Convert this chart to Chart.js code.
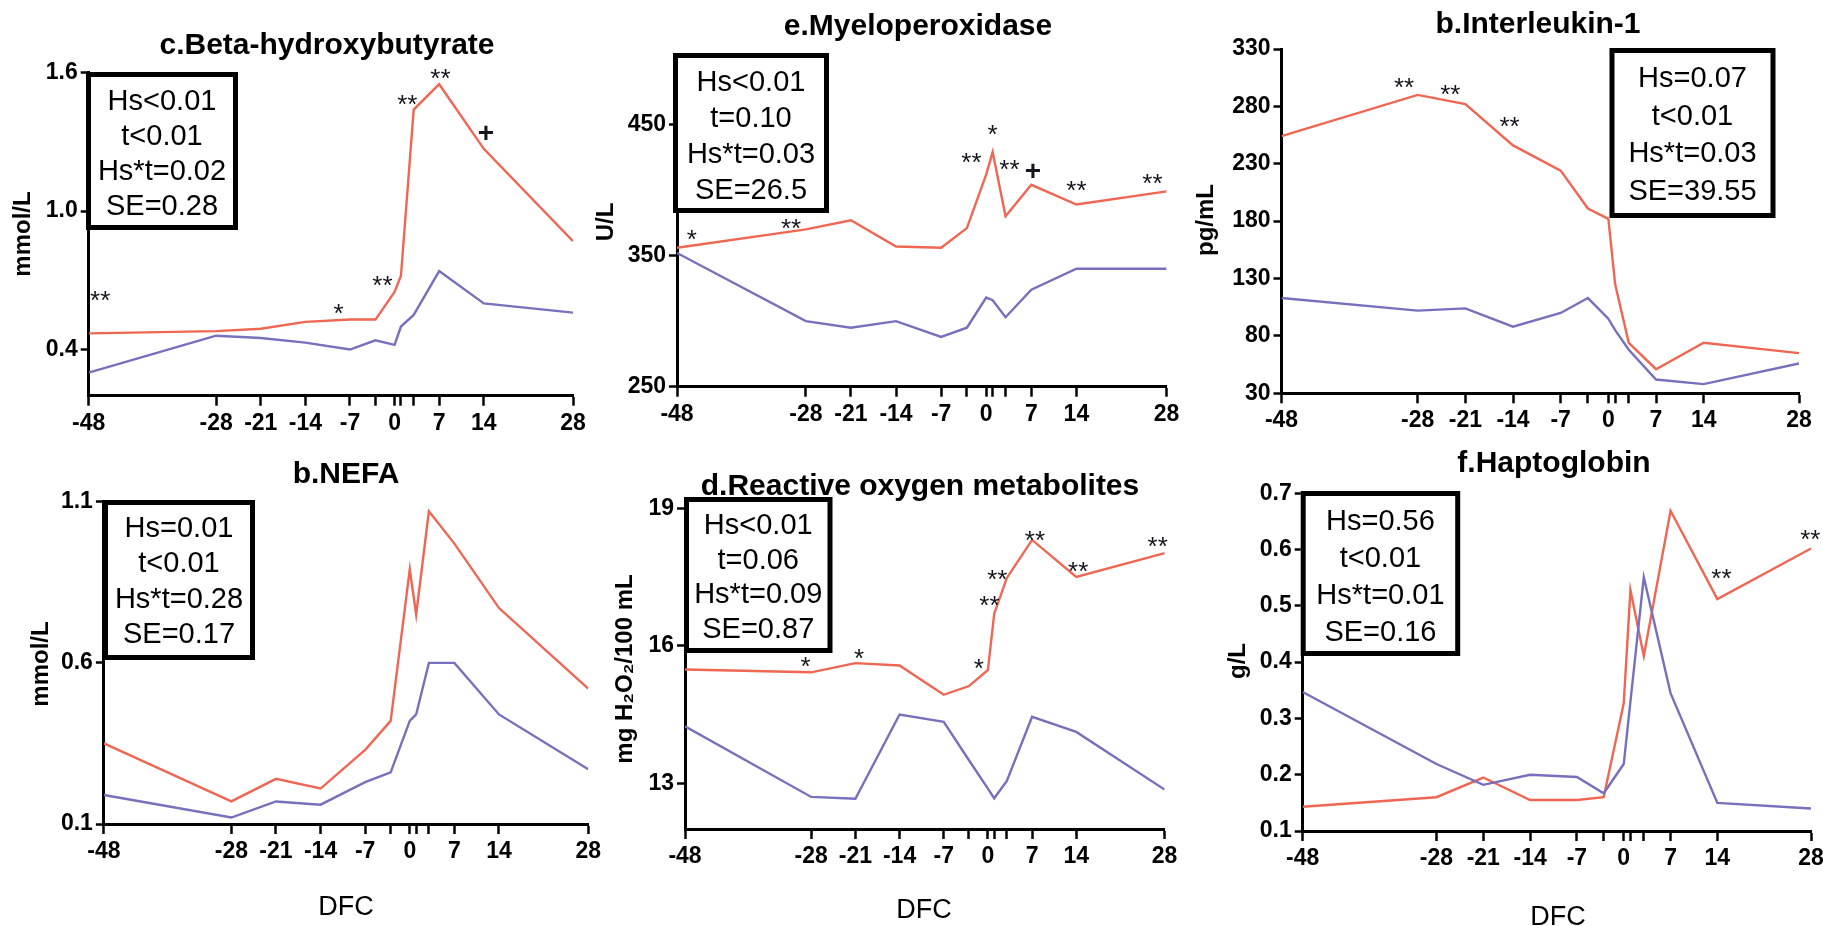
<!DOCTYPE html>
<html>
<head>
<meta charset="utf-8">
<script src="https://cdn.jsdelivr.net/npm/chart.js@4.4.1/dist/chart.umd.min.js"></script>
<style>
  html, body { margin: 0; padding: 0; background: #fff; overflow: hidden; }
  #page { position: relative; width: 1823px; height: 926px; overflow: hidden; background: #fff; }
  #page canvas { position: absolute; }
</style>
</head>
<body>
<div id="page"></div>
<script>
// sampling days relative to calving (DFC)
const days = [-48, -28, -21, -14, -7, -3, 0, 1, 3, 7, 14, 28];
const dayLabels = [-48, -28, -21, -14, -7, 0, 7, 14, 28];

// c. beta-hydroxybutyrate, mmol/L
const bhbRed = [0.47, 0.48, 0.49, 0.52, 0.53, 0.53, 0.65, 0.72, 1.44, 1.55, 1.27, 0.87];
const bhbBlue = [0.30, 0.46, 0.45, 0.43, 0.40, 0.44, 0.42, 0.50, 0.55, 0.74, 0.60, 0.56];
const bhbTicks = ['0.4', '1.0', '1.6'];
const bhbStats = ['Hs<0.01', 't<0.01', 'Hs*t=0.02', 'SE=0.28'];
const bhbMarks = [[-46.2, 0.64, '**'], [-8.8, 0.583, '*'], [-1.9, 0.705, '**'], [2.0, 1.489, '**'], [7.2, 1.604, '**'], [14.35, 1.345, '+']];

// e. myeloperoxidase, U/L
const mpoRed = [356, 370, 377, 357, 356, 371, 412, 429, 380, 404, 389, 399];
const mpoBlue = [352, 300, 295, 300, 288, 295, 318, 316, 303, 324, 340, 340];
const mpoTicks = ['250', '350', '450'];
const mpoStats = ['Hs<0.01', 't=0.10', 'Hs*t=0.03', 'SE=26.5'];
const mpoMarks = [[-45.7, 367, '*'], [-30.3, 376, '**'], [-2.3, 426, '**'], [1.0, 447, '*'], [3.6, 421, '**'], [7.25, 415, '+'], [14.0, 405, '**'], [25.8, 410, '**']];

// b. interleukin-1, pg/mL
const il1Red = [254, 290, 282, 246, 224, 191, 182, 125, 74, 51, 74, 65];
const il1Blue = [113, 102, 104, 88, 100, 113, 95, 85, 68, 42, 38, 56];
const il1Ticks = ['30', '80', '130', '180', '230', '280', '330'];
const il1Stats = ['Hs=0.07', 't<0.01', 'Hs*t=0.03', 'SE=39.55'];
const il1Marks = [[-30.0, 302, '**'], [-23.2, 296, '**'], [-14.5, 268, '**']];

// b. NEFA, mmol/L
const nefaRed = [0.35, 0.17, 0.24, 0.21, 0.33, 0.42, 0.89, 0.75, 1.07, 0.97, 0.77, 0.52];
const nefaBlue = [0.19, 0.12, 0.17, 0.16, 0.23, 0.26, 0.42, 0.44, 0.60, 0.60, 0.44, 0.27];
const nefaTicks = ['0.1', '0.6', '1.1'];
const nefaStats = ['Hs=0.01', 't<0.01', 'Hs*t=0.28', 'SE=0.17'];
const nefaMarks = [];

// d. reactive oxygen metabolites, mg H2O2/100 mL
const romRed = [15.48, 15.42, 15.62, 15.57, 14.93, 15.12, 15.47, 16.7, 17.48, 18.31, 17.50, 18.02];
const romBlue = [14.24, 12.70, 12.66, 14.50, 14.34, 13.5, 12.88, 12.67, 13.05, 14.45, 14.12, 12.86];
const romTicks = ['13', '16', '19'];
const romStats = ['Hs<0.01', 't=0.06', 'Hs*t=0.09', 'SE=0.87'];
const romMarks = [[-28.9, 15.68, '*'], [-20.4, 15.86, '*'], [-1.45, 15.64, '*'], [0.25, 17.03, '**'], [1.5, 17.59, '**'], [7.45, 18.44, '**'], [14.3, 17.76, '**'], [26.9, 18.30, '**']];

// f. haptoglobin, g/L
const hpRed = [0.143, 0.160, 0.195, 0.155, 0.155, 0.160, 0.327, 0.528, 0.411, 0.669, 0.512, 0.602];
const hpBlue = [0.347, 0.219, 0.182, 0.200, 0.196, 0.167, 0.219, 0.33, 0.551, 0.345, 0.150, 0.140];
const hpTicks = ['0.1', '0.2', '0.3', '0.4', '0.5', '0.6', '0.7'];
const hpStats = ['Hs=0.56', 't<0.01', 'Hs*t=0.01', 'SE=0.16'];
const hpMarks = [[14.6, 0.561, '**'], [27.9, 0.630, '**']];

const RED = '#ef6652';
const BLUE = '#7670bd';
const FONT = '"Liberation Sans", Arial, Helvetica, sans-serif';
const Y_W = 54;   // fixed y-axis band width
const X_H = 40;   // fixed x-axis band height

// tile = canvas rect on the page, area = plot rect [left, top, right, bottom] on the page
const panels = [
  { title: 'c.Beta-hydroxybutyrate', unit: 'mmol/L', red: bhbRed, blue: bhbBlue, ticks: bhbTicks, min: 0.2, max: 1.6,
    stats: bhbStats, marks: bhbMarks, tile: [0, 0, 590, 442], area: [88.7, 72.7, 573, 395.7],
    titleAt: [327, 54], unitAt: [23, 234], box: [86, 72, 152, 158, 109.5, 35], dfc: null },
  { title: 'e.Myeloperoxidase', unit: 'U/L', red: mpoRed, blue: mpoBlue, ticks: mpoTicks, min: 250, max: 500,
    stats: mpoStats, marks: mpoMarks, tile: [590, 0, 600, 442], area: [677, 59, 1166.6, 386.7],
    titleAt: [918, 35], unitAt: [606, 222], box: [673, 53, 156, 160, 90.5, 36], dfc: null },
  { title: 'b.Interleukin-1', unit: 'pg/mL', red: il1Red, blue: il1Blue, ticks: il1Ticks, min: 30, max: 330,
    stats: il1Stats, marks: il1Marks, tile: [1190, 0, 633, 442], area: [1281.5, 49, 1799, 393.3],
    titleAt: [1538, 33], unitAt: [1206, 220], box: [1609.5, 48, 166, 170, 87, 37.7], dfc: null },
  { title: 'b.NEFA', unit: 'mmol/L', red: nefaRed, blue: nefaBlue, ticks: nefaTicks, min: 0.1, max: 1.1,
    stats: nefaStats, marks: nefaMarks, tile: [0, 442, 605, 484], area: [103.9, 501.7, 588.6, 824],
    titleAt: [346, 483], unitAt: [41, 664], box: [103, 500, 152, 160, 537, 35.3], dfc: [346, 915] },
  { title: 'd.Reactive oxygen metabolites', unit: 'mg H\u2082O\u2082/100 mL', red: romRed, blue: romBlue, ticks: romTicks, min: 12, max: 19,
    stats: romStats, marks: romMarks, tile: [605, 442, 595, 484], area: [685, 508.3, 1164.6, 829],
    titleAt: [920, 495], unitAt: [625, 669], box: [684, 497, 148.5, 156, 534, 34.7], dfc: [924, 918] },
  { title: 'f.Haptoglobin', unit: 'g/L', red: hpRed, blue: hpBlue, ticks: hpTicks, min: 0.1, max: 0.7,
    stats: hpStats, marks: hpMarks, tile: [1200, 442, 643, 484], area: [1302.7, 493.3, 1811, 831],
    titleAt: [1554, 472], unitAt: [1238, 661], box: [1300.7, 491, 159.5, 165, 530, 37], dfc: [1558, 925] }
];

// titles, unit labels, significance marks and the stats box
function makeDecor(p) {
  return {
    id: 'decor',
    afterDraw(chart) {
      const ctx = chart.ctx;
      const xs = chart.scales.x, ys = chart.scales.y;
      ctx.save();
      ctx.fillStyle = '#15151f';
      ctx.textAlign = 'center';
      ctx.textBaseline = 'alphabetic';
      p.marks.forEach(([d, v, txt]) => {
        const px = xs.getPixelForValue(d), py = ys.getPixelForValue(v);
        if (txt === '+') {
          ctx.font = 'bold 28px ' + FONT;
          ctx.fillText(txt, px, py + 10);
        } else {
          ctx.font = '26px ' + FONT;
          ctx.fillText(txt, px, py + 15);
        }
      });
      ctx.restore();

      ctx.save();
      ctx.translate(-p.tile[0], -p.tile[1]);
      ctx.fillStyle = '#000';
      ctx.textAlign = 'center';

      ctx.font = 'bold 30px ' + FONT;
      ctx.textBaseline = 'alphabetic';
      ctx.fillText(p.title, p.titleAt[0], p.titleAt[1]);

      ctx.save();
      ctx.translate(p.unitAt[0], p.unitAt[1]);
      ctx.rotate(-Math.PI / 2);
      ctx.font = 'bold 24px ' + FONT;
      ctx.textBaseline = 'middle';
      ctx.fillText(p.unit, 0, 0);
      ctx.restore();

      if (p.dfc) {
        ctx.font = '27px ' + FONT;
        ctx.textBaseline = 'alphabetic';
        ctx.fillText('DFC', p.dfc[0], p.dfc[1]);
      }

      const [bx, by, bw, bh, first, gap] = p.box;
      ctx.fillStyle = '#fff';
      ctx.fillRect(bx, by, bw, bh);
      ctx.lineWidth = 5;
      ctx.strokeStyle = '#000';
      ctx.strokeRect(bx + 2.5, by + 2.5, bw - 5, bh - 5);
      ctx.fillStyle = '#000';
      ctx.font = '29px ' + FONT;
      ctx.textBaseline = 'alphabetic';
      p.stats.forEach((s, i) => ctx.fillText(s, bx + bw / 2, first + i * gap));
      ctx.restore();
    }
  };
}

const page = document.getElementById('page');

panels.forEach(p => {
  const [tx, ty, tw, th] = p.tile;
  const [L, T, R, B] = p.area;
  const canvas = document.createElement('canvas');
  canvas.width = tw;
  canvas.height = th;
  canvas.style.left = tx + 'px';
  canvas.style.top = ty + 'px';
  canvas.style.width = tw + 'px';
  canvas.style.height = th + 'px';
  page.appendChild(canvas);

  const tickFont = { family: FONT, size: 23, weight: 'bold' };
  const line = (vals, color) => ({
    data: days.map((d, i) => ({ x: d, y: vals[i] })),
    borderColor: color,
    borderWidth: 2.4,
    pointRadius: 0,
    tension: 0,
    fill: false
  });

  new Chart(canvas.getContext('2d'), {
    type: 'line',
    data: { datasets: [line(p.blue, BLUE), line(p.red, RED)] },
    options: {
      responsive: false,
      animation: false,
      devicePixelRatio: 1,
      layout: { padding: { left: L - tx - Y_W, top: T - ty, right: tx + tw - R, bottom: ty + th - B - X_H } },
      plugins: { legend: { display: false }, tooltip: { enabled: false }, title: { display: false } },
      scales: {
        x: {
          type: 'linear',
          min: -48,
          max: 28,
          afterBuildTicks: s => { s.ticks = days.map(v => ({ value: v })); },
          afterFit: s => { s.height = X_H; },
          ticks: {
            autoSkip: false, maxRotation: 0, padding: 4, color: '#000', font: tickFont,
            callback: v => dayLabels.includes(v) ? String(v) : ''
          },
          grid: { display: true, drawOnChartArea: false, drawTicks: true, tickLength: 10, tickWidth: 2.5, tickColor: '#000' },
          border: { display: true, color: '#000', width: 3 }
        },
        y: {
          type: 'linear',
          min: p.min,
          max: p.max,
          afterBuildTicks: s => { s.ticks = p.ticks.map(t => ({ value: parseFloat(t) })); },
          afterFit: s => { s.width = Y_W; },
          ticks: {
            padding: 3, color: '#000', font: tickFont,
            callback: v => { const t = p.ticks.find(t => parseFloat(t) === v); return t === undefined ? '' : t; }
          },
          grid: { display: true, drawOnChartArea: false, drawTicks: true, tickLength: 8, tickWidth: 2.5, tickColor: '#000' },
          border: { display: true, color: '#000', width: 3 }
        }
      }
    },
    plugins: [makeDecor(p)]
  });
});
</script>
</body>
</html>
